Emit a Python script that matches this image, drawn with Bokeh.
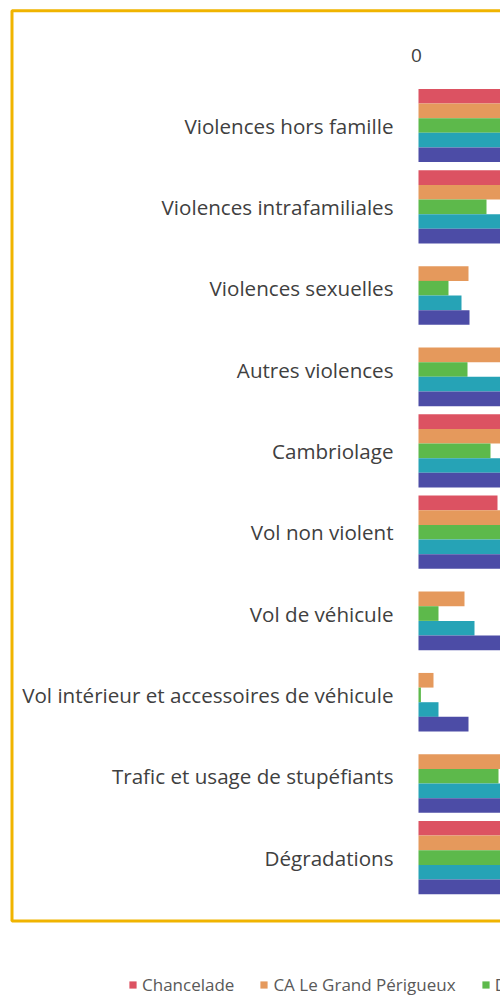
from bokeh.plotting import figure
from bokeh.models import Range1d, ColumnDataSource, Legend, LegendItem, BoxAnnotation
from bokeh.core.properties import value
from bokeh.embed import file_html
from bokeh.resources import INLINE

categories = [
    "Violences hors famille",
    "Violences intrafamiliales",
    "Violences sexuelles",
    "Autres violences",
    "Cambriolage",
    "Vol non violent",
    "Vol de véhicule",
    "Vol intérieur et accessoires de véhicule",
    "Trafic et usage de stupéfiants",
    "Dégradations",
]

series_names = ["Chancelade", "CA Le Grand Périgueux", "Dordogne",
                "Nouvelle-Aquitaine", "France métropolitaine"]

chancelade = [6.0, 5.5, 0.0, 0.0, 6.5, 3.95, 0.0, 0.0, 0.0, 6.0]
grand_perigueux = [5.2, 5.0, 2.5, 5.0, 5.5, 8.0, 2.3, 0.75, 5.5, 5.8]
dordogne = [4.6, 3.4, 1.5, 2.45, 3.6, 5.5, 1.0, 0.12, 4.0, 5.0]
nouvelle_aquitaine = [5.0, 5.2, 2.15, 4.6, 5.0, 7.0, 2.8, 1.0, 5.0, 5.5]
france = [6.5, 6.0, 2.55, 5.2, 5.5, 8.5, 4.5, 2.5, 6.0, 6.5]

colors = ["#DC5262", "#E5995C", "#5DB94B", "#26A3B6", "#4C4CA6"]

x_ticks = [0]

all_series = [chancelade, grand_perigueux, dordogne, nouvelle_aquitaine, france]

# layout constants (category units on y, value units on x)
BAR_H = 0.18
OFFSETS = [-0.36, -0.18, 0.0, 0.18, 0.36]
LABEL_X = -1.25
TICK_LABEL_Y = -0.86

pos = list(range(len(categories)))

p = figure(
    width=500, height=996,
    x_range=Range1d(-20.9, 4.1),
    y_range=Range1d(10.708, -1.537),
    output_backend="svg", toolbar_location=None,
    x_axis_location=None, y_axis_location=None,
    min_border=0,
)
p.outline_line_color = None
p.grid.visible = False
p.background_fill_color = "white"
p.border_fill_color = "white"

renderers = []
for i, (name, col, vals) in enumerate(zip(series_names, colors, all_series)):
    src = ColumnDataSource(dict(y=[k + OFFSETS[i] for k in pos], v=vals))
    r = p.hbar(y="y", left=0, right="v", height=BAR_H, source=src,
               fill_color=col, line_color=None)
    renderers.append(r)

# category labels
p.text(x=[LABEL_X] * len(categories), y=pos, text=categories,
       text_align="right", text_baseline="middle",
       text_font=value("Open Sans"), text_font_size="20.6px",
       text_color="#404040")

# tick label "0"
p.text(x=x_ticks, y=[TICK_LABEL_Y] * len(x_ticks), text=[str(t) for t in x_ticks],
       text_align="center", text_baseline="middle", x_offset=-2,
       text_font=value("Open Sans"), text_font_size="19px",
       text_color="#404040")

# golden frame around the chart area
box = BoxAnnotation(left=11.5, right=800, top=10.3, bottom=920.5,
                    left_units="canvas", right_units="canvas",
                    top_units="canvas", bottom_units="canvas",
                    fill_color=None, line_color="#F0B400", line_alpha=1.0,
                    line_width=3)
p.add_layout(box)

legend = Legend(
    items=[LegendItem(label=n, renderers=[r]) for n, r in zip(series_names, renderers)],
    orientation="horizontal",
    location=(128, 0),
    glyph_width=9, glyph_height=9,
    label_standoff=5, spacing=25,
    padding=0, margin=0,
    border_line_color=None, background_fill_alpha=0,
    label_text_font="Open Sans", label_text_font_size="17px",
    label_text_color="#595959", label_height=18,
)
p.add_layout(legend, "center")

open("out.html", "w").write(file_html(p, INLINE))
